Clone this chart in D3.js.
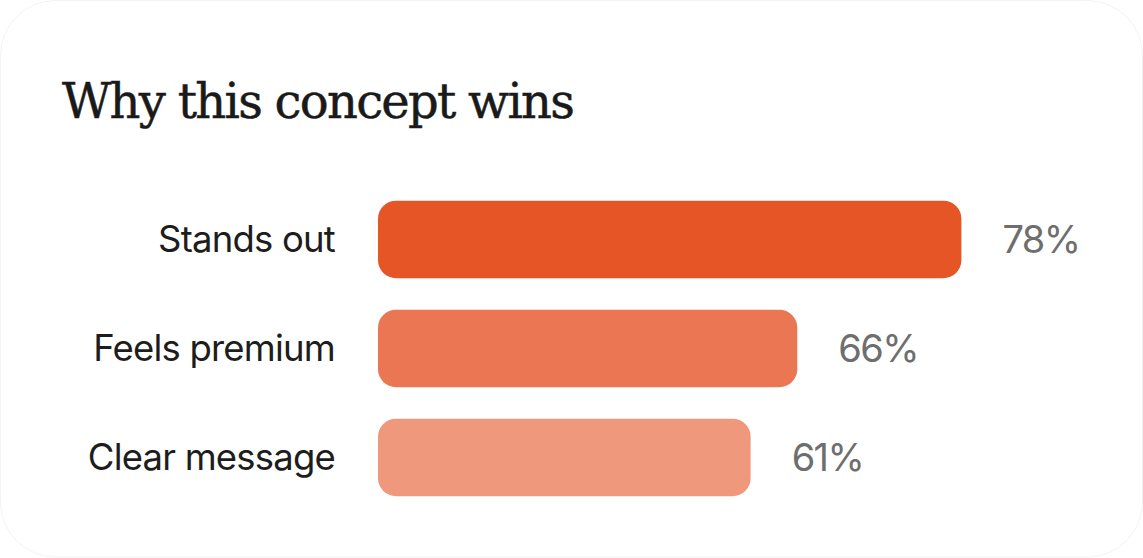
<!DOCTYPE html>
<html>
<head>
<meta charset="utf-8">
<script src="https://cdn.jsdelivr.net/npm/d3@7"></script>
<style>
  html, body { margin: 0; padding: 0; background: #ffffff; }
  svg { display: block; }
</style>
</head>
<body>
<div id="chart"></div>
<script>
const title = "Why this concept wins";
const categories = ["Stands out", "Feels premium", "Clear message"];
const values = [78, 66, 61];
const valueLabels = ["78%", "66%", "61%"];
const barColors = ["#E55526", "#EA7653", "#F0987B"];

const W = 1143, H = 558;
const svg = d3.select("#chart").append("svg")
  .attr("width", W).attr("height", H);

// card
svg.append("rect")
  .attr("x", 0.5).attr("y", 0.5)
  .attr("width", W - 1).attr("height", H - 1.5)
  .attr("rx", 55).attr("ry", 55)
  .attr("fill", "#ffffff")
  .attr("stroke", "#f3f3f3").attr("stroke-width", 1);

// title
const t = svg.append("text")
  .attr("x", 62).attr("y", 118)
  .attr("font-family", "'DejaVu Serif', 'Liberation Serif', serif")
  .attr("font-size", 48)
  .attr("fill", "#1a1a1a")
  .attr("stroke", "#1a1a1a")
  .attr("stroke-width", 0.5)
  .text(title);
const tw = t.node().getComputedTextLength();
const targetW = 513;
if (tw > 0) {
  const ls = (targetW - tw) / (title.length - 1);
  t.attr("letter-spacing", ls.toFixed(2));
}

const x0 = 378;
const x = d3.scalePow().exponent(4)
  .domain([0, 100])
  .range([x0 + 246.7, x0 + 1156.3]);

const y = d3.scaleBand()
  .domain(categories)
  .range([200.7, 496.2])
  .paddingInner(0.289)
  .paddingOuter(0);

const g = svg.append("g");

g.selectAll("rect.bar")
  .data(values)
  .join("rect")
  .attr("class", "bar")
  .attr("x", x0)
  .attr("y", (d, i) => y(categories[i]))
  .attr("width", d => x(d) - x0)
  .attr("height", y.bandwidth())
  .attr("rx", 18).attr("ry", 18)
  .attr("fill", (d, i) => barColors[i]);

g.selectAll("text.cat")
  .data(categories)
  .join("text")
  .attr("class", "cat")
  .attr("x", 335)
  .attr("y", d => y(d) + y.bandwidth() / 2 + 13)
  .attr("text-anchor", "end")
  .attr("font-family", "Inter, 'Noto Sans', sans-serif")
  .attr("font-size", 36.5)
  .attr("letter-spacing", -0.8)
  .attr("fill", "#1d1d1d")
  .text(d => d);

g.selectAll("text.val")
  .data(values)
  .join("text")
  .attr("class", "val")
  .attr("x", d => x(d) + 41)
  .attr("y", (d, i) => y(categories[i]) + y.bandwidth() / 2 + 14)
  .attr("font-family", "Inter, 'Noto Sans', sans-serif")
  .attr("font-size", 38)
  .attr("letter-spacing", -1.6)
  .attr("fill", "#6e6e6e")
  .text((d, i) => valueLabels[i]);
</script>
</body>
</html>
